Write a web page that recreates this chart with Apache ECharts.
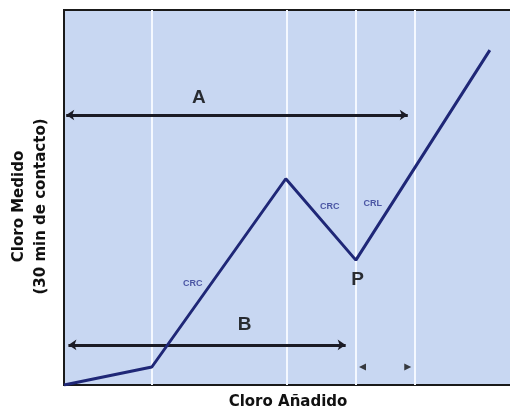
<!DOCTYPE html>
<html><head><meta charset="utf-8">
<script src="https://cdn.jsdelivr.net/npm/echarts@6/dist/echarts.min.js"></script>
<style>html,body{margin:0;padding:0;background:#fff}#c{width:510px;height:412px}</style>
</head><body><div id="c"></div>
<script>
// Curve of measured vs added chlorine (abstract units 0-100)
const curveX = [0, 19.8, 50, 65.8, 96];
const curveY = [0, 4.8, 55, 33.3, 89.3];
// vertical white guide lines
const guideX = [19.8, 50.2, 65.8, 79];
// arrows: [x1, x2, y]
const arrowA = [0.5, 77.5, 72];
const arrowB = [1, 63.5, 10.7];
const smallHeads = [[67.3, 4.8, 90], [77.5, 4.8, -90]];
// text labels [x, y, text, kind]
const labels = [
  [30.4, 76.5, 'A', 'big'],
  [40.7, 16, 'B', 'big'],
  [66.2, 28, 'P', 'big'],
  [29, 27, 'CRC', 'small'],
  [59.9, 47.5, 'CRC', 'small'],
  [69.6, 48.3, 'CRL', 'small']
];
const xTitle = 'Cloro Añadido';
const yTitle = 'Cloro Medido\n(30 min de contacto)';

const chart = echarts.init(document.getElementById('c'));
const lineColor = '#1f2777';
function arrowLine(a) {
  return [{coord: [a[0], a[2]]}, {coord: [a[1], a[2]]}];
}
chart.setOption({
  animation: false,
  grid: {left: 64, right: -2, top: 10, bottom: 27, outerBoundsMode: 'none', containLabel: false, show: true, backgroundColor: '#c8d7f2', borderColor: '#1a1a1a', borderWidth: 2},
  xAxis: {type: 'value', min: 0, max: 101, axisLine: {show: false}, axisTick: {show: false}, axisLabel: {show: false}, splitLine: {show: false},
    name: xTitle, nameLocation: 'middle', nameGap: 10, nameTextStyle: {fontFamily: 'DejaVu Sans', fontWeight: 'bold', fontSize: 15, color: '#111'}},
  yAxis: {type: 'value', min: 0, max: 100, axisLine: {show: false}, axisTick: {show: false}, axisLabel: {show: false}, splitLine: {show: false},
    name: yTitle, nameLocation: 'middle', nameGap: 12, nameRotate: 90, nameTextStyle: {fontFamily: 'DejaVu Sans', fontWeight: 'bold', fontSize: 15, color: '#111', lineHeight: 22, padding: [0, 18, 0, 0]}},
  series: [
    {type: 'line', silent: true, data: [], markLine: {symbol: 'none', silent: true, label: {show: false},
      lineStyle: {color: '#f4f8ff', width: 2, type: 'solid'},
      data: guideX.map(v => ({xAxis: v}))}},
    {type: 'line', data: curveX.map((x, i) => [x, curveY[i]]), symbol: 'none', lineStyle: {color: lineColor, width: 3}, z: 5},
    {type: 'line', data: [], z: 4, markLine: {silent: true, symbol: ['arrow', 'arrow'], symbolSize: [8, 8], label: {show: false},
      lineStyle: {color: '#1b1b25', width: 3, type: 'solid'},
      data: [arrowLine(arrowA), arrowLine(arrowB)]}},
    {type: 'scatter', data: smallHeads.map(h => ({value: [h[0], h[1]], symbolRotate: h[2]})), symbol: 'triangle', symbolSize: [7, 7],
      itemStyle: {color: '#111'}, silent: true},
    {type: 'scatter', symbolSize: 0, silent: true, z: 6,
      data: labels.map(l => ({value: [l[0], l[1]], label: {show: true, formatter: l[2], position: 'inside',
        fontFamily: 'Liberation Sans', fontWeight: 'bold', textBorderWidth: 0,
        fontSize: l[3] === 'big' ? 19 : 9, color: l[3] === 'big' ? '#000' : '#2b3590'}}))}
  ]
});
</script></body></html>
